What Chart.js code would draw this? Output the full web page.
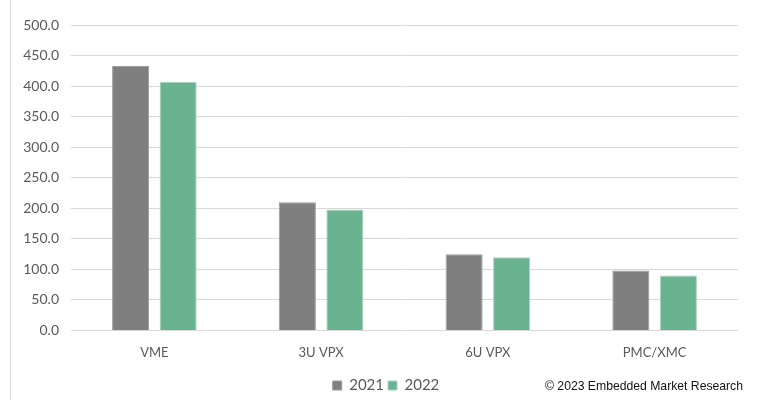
<!DOCTYPE html>
<html>
<head>
<meta charset="utf-8">
<script src="https://cdn.jsdelivr.net/npm/chart.js@4.4.0/dist/chart.umd.min.js"></script>
<style>
  html, body { margin: 0; padding: 0; background: #fff; }
  #wrap { position: relative; width: 759px; height: 400px; overflow: hidden; }
  #edge { position: absolute; left: 10px; top: 0; width: 1px; height: 400px; background: #d9d9d9; }
  #copy { position: absolute; left: 545px; top: 379px; font-family: "Liberation Sans", Arial, sans-serif; font-size: 12.2px; color: #111; white-space: nowrap; }
</style>
</head>
<body>
<div id="wrap">
  <canvas id="c" width="759" height="400"></canvas>
  <div id="edge"></div>
  <div id="copy">© 2023 Embedded Market Research</div>
</div>
<script>
const categories = ["VME", "3U VPX", "6U VPX", "PMC/XMC"];
const seriesNames = ["2021", "2022"];
const values2021 = [433, 210, 125, 98];
const values2022 = [407, 198, 120, 90];
const yTicks = [0, 50, 100, 150, 200, 250, 300, 350, 400, 450, 500];

const FONT = "Lato, 'Open Sans', sans-serif";

const shiftLegend = {
  id: 'shiftLegend',
  afterLayout(chart) {
    const l = chart.legend;
    if (l) { l.left += 11; l.right += 11; l.top += 3; l.bottom += 3; }
  }
};

new Chart(document.getElementById('c'), {
  type: 'bar',
  data: {
    labels: categories,
    datasets: [
      { label: seriesNames[0], data: values2021, backgroundColor: '#7f7f7f', borderColor: '#9a9a9a', borderWidth: 1 },
      { label: seriesNames[1], data: values2022, backgroundColor: '#6ab391', borderColor: '#a9d3bd', borderWidth: 1 }
    ]
  },
  plugins: [shiftLegend],
  options: {
    responsive: false,
    animation: false,
    devicePixelRatio: 1,
    layout: { padding: { left: 12, right: 21, top: 25, bottom: 0 } },
    datasets: { bar: { categoryPercentage: 0.57, barPercentage: 0.78 } },
    plugins: {
      title: { display: false },
      tooltip: { enabled: false },
      legend: {
        display: true,
        position: 'bottom',
        labels: {
          boxWidth: 9, boxHeight: 9, padding: 4,
          color: '#595959',
          font: { family: FONT, size: 15 }
        }
      }
    },
    scales: {
      x: {
        grid: { display: false },
        border: { display: false },
        afterFit: (s) => { s.height = 40.5; },
        ticks: { color: '#595959', font: { family: FONT, size: 13 }, padding: 6.5 }
      },
      y: {
        min: 0, max: 500,
        afterBuildTicks: (s) => { s.ticks = yTicks.map(v => ({ value: v })); },
        afterFit: (s) => { s.width = 59; },
        grid: { color: '#d9d9d9', lineWidth: 1, drawTicks: false },
        border: { display: false },
        ticks: {
          color: '#595959', font: { family: FONT, size: 14 }, padding: 12,
          callback: (v) => Number(v).toFixed(1)
        }
      }
    }
  }
});
</script>
</body>
</html>
